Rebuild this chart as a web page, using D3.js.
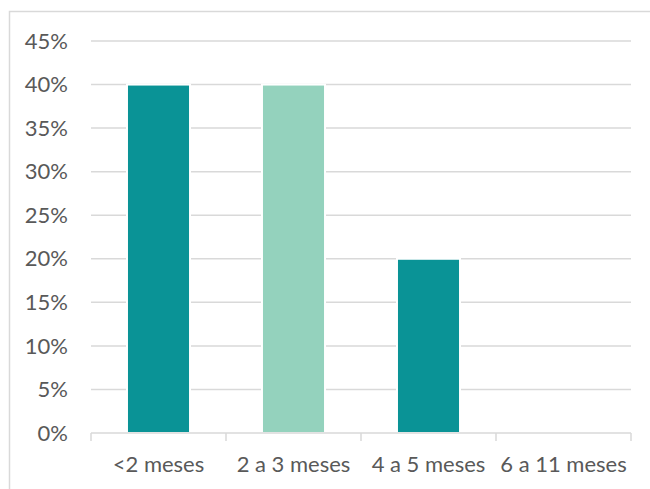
<!DOCTYPE html>
<html>
<head>
<meta charset="utf-8">
<script src="https://cdn.jsdelivr.net/npm/d3@7"></script>
<style>
  body { margin: 0; background: #fff; }
  svg { display: block; font-family: Lato, 'Open Sans', sans-serif; }
</style>
</head>
<body>
<svg id="chart" width="650" height="489"></svg>
<script>
const categories = ['<2 meses', '2 a 3 meses', '4 a 5 meses', '6 a 11 meses']
const values = [40, 40, 20, 0]
const barColors = ['#0a9396', '#94d2bd', '#0a9396', '#0a9396']
const yTicks = [0, 5, 10, 15, 20, 25, 30, 35, 40, 45]

const marginLeft = 91
const marginRight = 19
const marginTop = 41
const marginBottom = 56
const width = 650
const height = 489

const svg = d3.select('#chart')

// chart frame (partly outside the picture)
svg.append('rect')
  .attr('x', 9.5)
  .attr('y', 11.5)
  .attr('width', 700)
  .attr('height', 600)
  .attr('fill', 'none')
  .attr('stroke', '#d9d9d9')
  .attr('stroke-width', 1.5)

const x = d3.scaleBand()
  .domain(categories)
  .range([marginLeft, width - marginRight])
  .paddingInner(0.533)
  .paddingOuter(0.2665)

const y = d3.scaleLinear()
  .domain([0, 45])
  .range([height - marginBottom, marginTop])

// grid
svg.append('g')
  .selectAll('line')
  .data(yTicks.filter((d) => d > 0))
  .join('line')
  .attr('x1', marginLeft)
  .attr('x2', width - marginRight)
  .attr('y1', (d) => y(d))
  .attr('y2', (d) => y(d))
  .attr('stroke', '#d9d9d9')
  .attr('stroke-width', 1.5)

// y labels
svg.append('g')
  .selectAll('text')
  .data(yTicks)
  .join('text')
  .attr('x', 68)
  .attr('y', (d) => y(d))
  .attr('dy', '0.35em')
  .attr('text-anchor', 'end')
  .attr('fill', '#595959')
  .attr('font-size', 22)
  .text((d) => d + '%')

// bars
svg.append('g')
  .selectAll('rect')
  .data(values)
  .join('rect')
  .attr('x', (d, i) => x(categories[i]))
  .attr('width', x.bandwidth())
  .attr('y', (d) => y(d))
  .attr('height', (d) => y(0) - y(d))
  .attr('fill', (d, i) => barColors[i])
  .attr('stroke', '#fff')
  .attr('stroke-width', d => d > 0 ? 2 : 0)

// x axis
const axisX = d3.scaleLinear()
  .domain([0, categories.length])
  .range([marginLeft, width - marginRight])

const xAxis = svg.append('g')
  .attr('transform', `translate(0 ${y(0)})`)

xAxis.append('line')
  .attr('x1', marginLeft)
  .attr('x2', width - marginRight)
  .attr('stroke', '#d9d9d9')
  .attr('stroke-width', 1.5)

xAxis.selectAll('.tick')
  .data(d3.range(categories.length + 1))
  .join('line')
  .attr('class', 'tick')
  .attr('x1', (d) => axisX(d))
  .attr('x2', (d) => axisX(d))
  .attr('y1', 0)
  .attr('y2', 8)
  .attr('stroke', '#d9d9d9')
  .attr('stroke-width', 1.5)

xAxis.selectAll('text')
  .data(categories)
  .join('text')
  .attr('x', (d) => x(d) + x.bandwidth() / 2)
  .attr('y', 39)
  .attr('text-anchor', 'middle')
  .attr('fill', '#595959')
  .attr('font-size', 22)
  .text((d) => d)
</script>
</body>
</html>
